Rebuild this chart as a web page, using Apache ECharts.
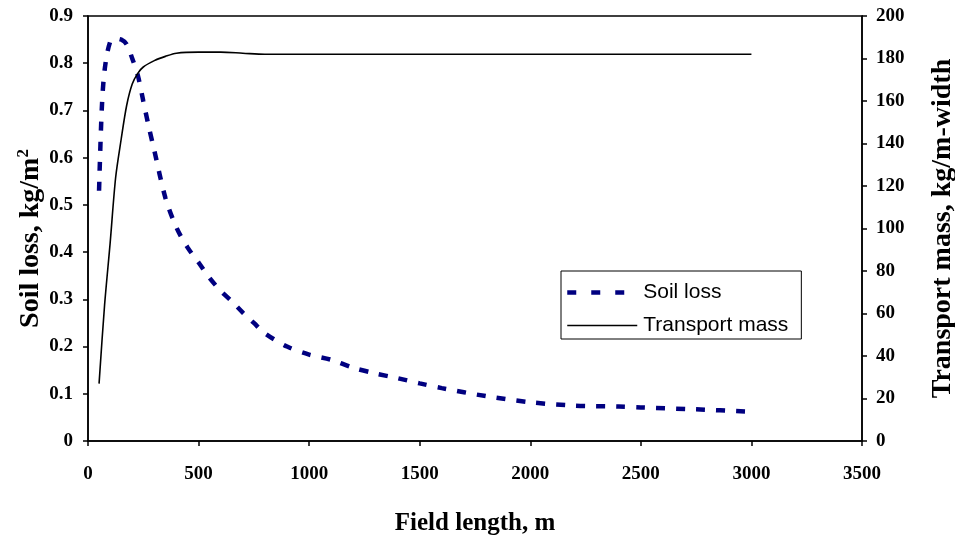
<!DOCTYPE html>
<html><head><meta charset="utf-8">
<script src="https://cdn.jsdelivr.net/npm/echarts@6/dist/echarts.min.js"></script>
<style>html,body{margin:0;padding:0;background:#fff}#c{width:955px;height:539px}</style>
</head><body><div id="c"></div>
<script>
const soilX = [50, 62, 75, 100, 125, 150, 175, 200, 225, 250, 275, 300, 350, 400, 450, 500, 550, 600, 650, 700, 750, 800, 900, 1000, 1100, 1200, 1300, 1400, 1500, 1600, 1800, 2000, 2200, 2400, 2500, 2750, 3000];
const soilY = [0.53, 0.70, 0.785, 0.845, 0.852, 0.85, 0.84, 0.81, 0.775, 0.72, 0.665, 0.615, 0.515, 0.452, 0.41, 0.378, 0.345, 0.318, 0.296, 0.272, 0.25, 0.228, 0.2, 0.183, 0.172, 0.155, 0.143, 0.133, 0.122, 0.112, 0.095, 0.082, 0.075, 0.073, 0.071, 0.067, 0.062];
const transX = [50, 75, 100, 125, 150, 175, 200, 225, 250, 300, 350, 400, 500, 600, 700, 800, 1000, 1500, 2000, 2500, 3000];
const transY = [27, 64, 93, 124, 142, 158, 168, 173, 176, 179, 181, 182.5, 183, 183, 182.5, 182, 182, 182, 182, 182, 182];

const chart = echarts.init(document.getElementById('c'));
const tickFont = {fontFamily:'Liberation Serif', fontWeight:'bold', fontSize:19, color:'#000'};
const titleFont = {fontFamily:'Liberation Serif', fontWeight:'bold', fontSize:25, color:'#000'};
const vTitleFont = {fontFamily:'Liberation Serif', fontWeight:'bold', fontSize:28, color:'#000'};
chart.setOption({
  animation:false,
  backgroundColor:'#fff',
  grid:{left:88, right:93, top:16, bottom:98, outerBoundsMode:'none', show:true, borderColor:'#000', borderWidth:1.5},
  legend:{
    orient:'vertical', left:561, top:271,
    backgroundColor:'#fff', borderColor:'#000', borderWidth:1,
    padding:[11,13,3,4], itemWidth:70, itemHeight:14, itemGap:12,
    itemStyle:{opacity:0},
    textStyle:{fontFamily:'Liberation Sans', fontSize:21, color:'#000', padding:[0,0,0,1]},
    data:[
      {name:'Soil loss', lineStyle:{width:4.5, type:[9,15], color:'#000080'}},
      {name:'Transport mass', lineStyle:{width:1.6, color:'#000'}}
    ]
  },
  xAxis:{
    type:'value', min:0, max:3500, interval:500,
    name:'Field length, m', nameLocation:'middle', nameGap:70, nameTextStyle:titleFont,
    axisLine:{lineStyle:{color:'#000', width:1.5}},
    axisTick:{show:true, length:5, lineStyle:{color:'#000', width:1.5}},
    axisLabel:Object.assign({margin:24, formatter:v=>String(v)}, tickFont),
    splitLine:{show:false}
  },
  yAxis:[{
    type:'value', min:0, max:0.9, interval:0.1, position:'left',
    name:'Soil loss, kg/m{sup|2}', nameLocation:'middle', nameGap:42, nameRotate:90, nameMoveOverlap:false,
    nameTextStyle:Object.assign({padding:[0,20,0,0], rich:{sup:{fontFamily:'Liberation Serif', fontWeight:'bold', fontSize:17, verticalAlign:'top', padding:[0,0,14,0]}}}, vTitleFont),
    axisLine:{show:true, lineStyle:{color:'#000', width:1.5}},
    axisTick:{show:true, length:5, lineStyle:{color:'#000', width:1.5}},
    axisLabel:Object.assign({margin:15, formatter:v=>v===0?'0':v.toFixed(1)}, tickFont),
    splitLine:{show:false}
  },{
    type:'value', min:0, max:200, interval:20, position:'right',
    name:'Transport mass, kg/m-width', nameLocation:'middle', nameGap:67, nameRotate:90,
    nameTextStyle:vTitleFont,
    axisLine:{show:true, lineStyle:{color:'#000', width:1.5}},
    axisTick:{show:true, length:5, lineStyle:{color:'#000', width:1.5}},
    axisLabel:Object.assign({margin:14}, tickFont),
    splitLine:{show:false}
  }],
  series:[{
    name:'Soil loss', type:'line', yAxisIndex:0, smooth:0.3, symbol:'none',
    data:soilX.map((x,i)=>[x, soilY[i]]),
    lineStyle:{color:'#000080', width:4.5, type:[9,11]},
    itemStyle:{color:'#000080'}
  },{
    name:'Transport mass', type:'line', yAxisIndex:1, smooth:0.3, symbol:'none',
    data:transX.map((x,i)=>[x, transY[i]]),
    lineStyle:{color:'#000', width:1.6},
    itemStyle:{color:'#000'}
  }]
});
</script></body></html>
